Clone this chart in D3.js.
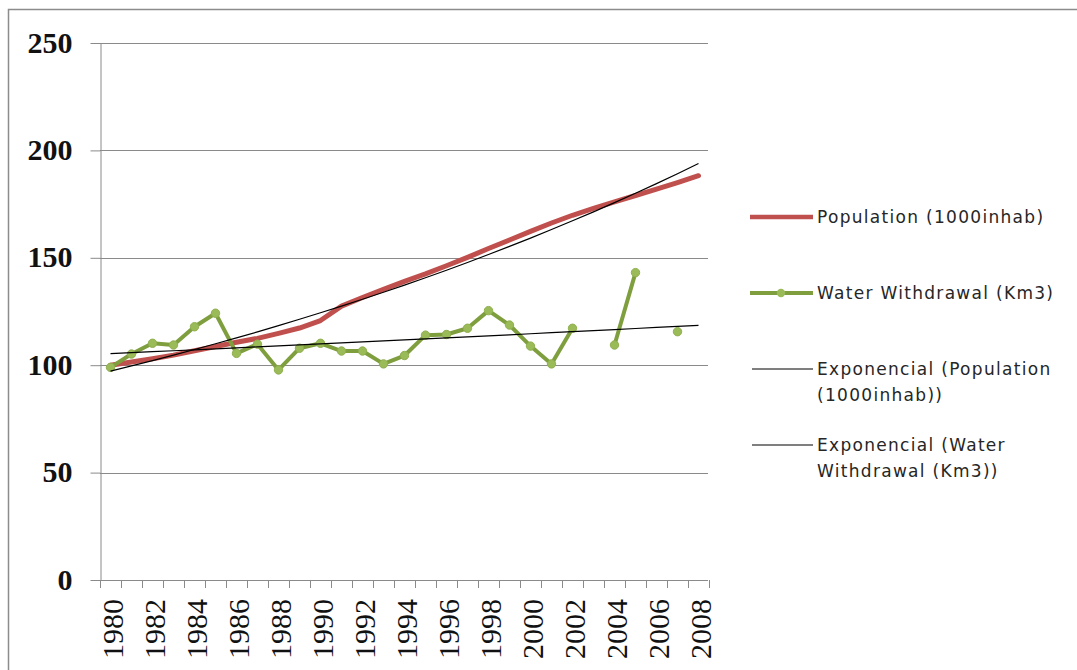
<!DOCTYPE html>
<html>
<head>
<meta charset="utf-8">
<script src="https://cdn.jsdelivr.net/npm/d3@7"></script>
<style>
  html, body { margin: 0; padding: 0; background: #fff; }
  svg { display: block; }
</style>
</head>
<body>
<svg id="chart" width="1077" height="670"></svg>
<script>
// ---- data ----
const years = d3.range(1980, 2009).map(String);
const yTicks = [0, 50, 100, 150, 200, 250];
const xTickLabels = ["1980","1982","1984","1986","1988","1990","1992","1994","1996","1998","2000","2002","2004","2006","2008"];
const population = [100, 101.5, 103, 104.7, 106.7, 108.7, 110.7, 112.5, 114.8, 117.3, 120.8, 127.5, 131.5, 135.3, 139, 142.5, 146.3, 150.2, 154.3, 158.3, 162.3, 166.2, 169.8, 173, 176, 179, 182, 185, 188.2];
const water = [99, 105.2, 110.2, 109.4, 117.9, 124.2, 105.5, 109.8, 97.8, 107.9, 110.2, 106.6, 106.6, 100.6, 104.5, 114, 114.3, 117.2, 125.4, 118.7, 108.9, 100.6, 117.2, null, 109.4, 143.1, null, 115.6, null];
const seriesNames = ["Population (1000inhab)", "Water Withdrawal (Km3)"];
const trendNames = [["Exponencial (Population", "(1000inhab))"], ["Exponencial (Water", "Withdrawal (Km3))"]];

(function () {
// ---- layout ----
const svg = d3.select("#chart");
const mLeft = 100, mRight = 709, mTop = 43, mBottom = 580;
const x = d3.scaleBand().domain(years).range([mLeft, mRight]).padding(0);
const y = d3.scaleLinear().domain([0, 250]).range([mBottom, mTop]);
const cx = d => x(d) + x.bandwidth() / 2;

// chart border
svg.append("rect").attr("x", 8.5).attr("y", 9.5).attr("width", 1200).attr("height", 800)
  .attr("fill", "none").attr("stroke", "#8c8c8c").attr("stroke-width", 1.5);

// gridlines
svg.append("g").selectAll("line").data(yTicks.filter(t => t > 0)).join("line")
  .attr("x1", mLeft).attr("x2", mRight - 1)
  .attr("y1", d => Math.round(y(d)) + 0.5).attr("y2", d => Math.round(y(d)) + 0.5)
  .attr("stroke", "#8a8a8a").attr("stroke-width", 1);

// y axis
const yAxis = d3.axisLeft(y).tickValues(yTicks).tickSize(10).tickSizeOuter(0).tickFormat(d3.format("d"));
const gy = svg.append("g").attr("transform", `translate(${mLeft + 0.5},0)`).call(yAxis);
gy.select(".domain").attr("stroke", "#8a8a8a");
gy.selectAll(".tick line").attr("stroke", "#8a8a8a");
gy.selectAll(".tick text")
  .attr("x", -28).attr("dy", "0.3em")
  .attr("font-family", "'Liberation Serif', serif").attr("font-weight", "bold")
  .attr("font-size", 30).attr("fill", "#111");

// x axis
const xAxis = d3.axisBottom(x).tickSize(0).tickSizeOuter(0);
const gx = svg.append("g").attr("transform", `translate(0,${mBottom + 0.5})`).call(xAxis);
gx.select(".domain").attr("stroke", "#8a8a8a").attr("d", `M${mLeft},0H${mRight - 1}`);
gx.selectAll(".tick text").remove();
// boundary tick marks
svg.append("g").selectAll("line").data(years.concat(["end"])).join("line")
  .attr("x1", (d, i) => Math.round(mLeft + i * x.bandwidth()) + 0.5)
  .attr("x2", (d, i) => Math.round(mLeft + i * x.bandwidth()) + 0.5)
  .attr("y1", mBottom).attr("y2", mBottom + 8)
  .attr("stroke", "#8a8a8a");
svg.append("g").selectAll("text").data(xTickLabels).join("text")
  .attr("transform", d => `translate(${cx(d) + 12},599) rotate(-90)`)
  .attr("text-anchor", "end")
  .attr("font-family", "'Liberation Serif', serif").attr("font-size", 30).attr("fill", "#111")
  .text(d => d);

// exponential trend fits (least squares on log values)
function expFit(vals) {
  const pts = vals.map((v, i) => [i + 1, v]).filter(p => p[1] != null);
  const mx = d3.mean(pts, p => p[0]);
  const my = d3.mean(pts, p => Math.log(p[1]));
  const b = d3.sum(pts, p => (p[0] - mx) * (Math.log(p[1]) - my)) / d3.sum(pts, p => (p[0] - mx) ** 2);
  const a = Math.exp(my - b * mx);
  return years.map((yr, i) => [yr, a * Math.exp(b * (i + 1))]);
}

const lineGen = d3.line().defined(d => d[1] != null).x(d => cx(d[0])).y(d => y(d[1]));

// population series
svg.append("path").datum(years.map((yr, i) => [yr, population[i]]))
  .attr("d", lineGen).attr("fill", "none").attr("stroke", "#C0504D")
  .attr("stroke-width", 5).attr("stroke-linejoin", "round").attr("stroke-linecap", "round");

// water series
const waterData = years.map((yr, i) => [yr, water[i]]);
svg.append("path").datum(waterData)
  .attr("d", lineGen).attr("fill", "none").attr("stroke", "#7f9f3f")
  .attr("stroke-width", 4).attr("stroke-linejoin", "round");
svg.append("g").selectAll("circle").data(waterData.filter(d => d[1] != null)).join("circle")
  .attr("cx", d => cx(d[0])).attr("cy", d => y(d[1])).attr("r", 4.2)
  .attr("fill", "#9BBB59").attr("stroke", "#8fb04f");

// trendlines
[expFit(population), expFit(water)].forEach(td => {
  svg.append("path").datum(td).attr("d", lineGen)
    .attr("fill", "none").attr("stroke", "#000").attr("stroke-width", 1.2);
});

// legend
const lg = svg.append("g").attr("font-family", "'DejaVu Sans', sans-serif").attr("font-size", 17)
  .attr("fill", "#262626").attr("letter-spacing", "1.3px");
const legendY = [217, 293, 369, 445];
lg.append("line").attr("x1", 750).attr("x2", 813).attr("y1", legendY[0]).attr("y2", legendY[0])
  .attr("stroke", "#C0504D").attr("stroke-width", 4.5);
lg.append("line").attr("x1", 750).attr("x2", 813).attr("y1", legendY[1]).attr("y2", legendY[1])
  .attr("stroke", "#7f9f3f").attr("stroke-width", 4);
lg.append("circle").attr("cx", 781).attr("cy", legendY[1]).attr("r", 4.2).attr("fill", "#9BBB59");
lg.append("line").attr("x1", 752).attr("x2", 813).attr("y1", legendY[2]).attr("y2", legendY[2])
  .attr("stroke", "#000").attr("stroke-width", 1.2);
lg.append("line").attr("x1", 752).attr("x2", 813).attr("y1", legendY[3]).attr("y2", legendY[3])
  .attr("stroke", "#000").attr("stroke-width", 1.2);
seriesNames.forEach((s, i) => {
  lg.append("text").attr("x", 817).attr("y", legendY[i]).attr("dy", "0.36em").text(s);
});
trendNames.forEach((lines, i) => {
  lines.forEach((t, j) => {
    lg.append("text").attr("x", 817).attr("y", legendY[i + 2] + j * 26).attr("dy", "0.36em").text(t);
  });
});
})();
</script>
</body>
</html>
